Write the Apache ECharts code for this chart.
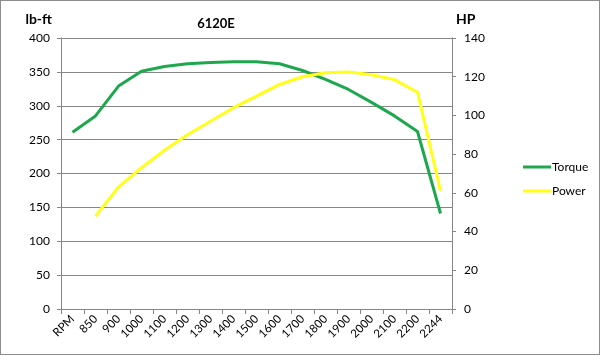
<!DOCTYPE html>
<html><head><meta charset="utf-8">
<script src="https://cdn.jsdelivr.net/npm/echarts@6/dist/echarts.min.js"></script>
<style>html,body{margin:0;padding:0;background:#fff}#c{width:598px;height:353px;border:1px solid #8c8c8c}</style>
</head><body><div id="c"></div>
<script>
const categories = ['RPM','850','900','1000','1100','1200','1300','1400','1500','1600','1700','1800','1900','2000','2100','2200','2244'];
const torque = [261,285,329,351,358,362,364,365,365,362,352,339,324,305,285,262,141];
const power = [null,48,63,73,82,90,97,104,110,116,120,122,122.5,121,118.5,112,61];
const leftTicks = {min:0,max:400,interval:50};
const rightTicks = {min:0,max:140,interval:20};
const FONT = 'Lato';
const chart = echarts.init(document.getElementById('c'));
chart.setOption({
  animation:false,
  textStyle:{fontFamily:FONT},
  title:{text:'6120E',left:210,top:11,textAlign:'center',textStyle:{fontSize:13,fontWeight:'bold',color:'#000',fontFamily:FONT}},
  legend:{orient:'vertical',left:517,top:155,itemWidth:28,itemHeight:3,itemGap:12,icon:'rect',
    textStyle:{fontSize:12,color:'#000',padding:[0,0,0,-4]},
    data:['Torque','Power']},
  grid:{left:60,right:147,top:37,bottom:45},
  xAxis:{type:'category',data:categories,boundaryGap:true,
    axisLine:{lineStyle:{color:'#868686'}},
    axisTick:{show:true,alignWithLabel:false,length:5,lineStyle:{color:'#868686'}},
    axisLabel:{rotate:45,fontSize:11.5,color:'#000',margin:8,interval:0}},
  yAxis:[
    {type:'value',name:'lb-ft',nameLocation:'end',nameGap:12,nameTextStyle:{fontSize:14,fontWeight:'bold',color:'#000',align:'right',padding:[0,9,0,0]},
     min:leftTicks.min,max:leftTicks.max,interval:leftTicks.interval,
     axisLine:{show:true,lineStyle:{color:'#868686'}},axisTick:{show:true,length:4,lineStyle:{color:'#868686'}},
     axisLabel:{fontSize:12,color:'#000',margin:11},
     splitLine:{lineStyle:{color:'#868686',width:1}}},
    {type:'value',name:'HP',nameLocation:'end',nameGap:12,nameTextStyle:{fontSize:14,fontWeight:'bold',color:'#000',align:'left',padding:[0,0,0,4]},
     min:rightTicks.min,max:rightTicks.max,interval:rightTicks.interval,position:'right',
     axisLine:{show:true,lineStyle:{color:'#868686'}},axisTick:{show:true,length:4,lineStyle:{color:'#868686'}},
     axisLabel:{fontSize:12,color:'#000',margin:12},
     splitLine:{show:false}}
  ],
  series:[
    {name:'Torque',type:'line',yAxisIndex:0,data:torque,symbol:'none',smooth:false,
     lineStyle:{color:'#1ea84e',width:3},itemStyle:{color:'#1ea84e'}},
    {name:'Power',type:'line',yAxisIndex:1,data:power,symbol:'none',smooth:false,connectNulls:false,
     lineStyle:{color:'#ffff1a',width:3},itemStyle:{color:'#ffff1a'}}
  ]
});
</script></body></html>
